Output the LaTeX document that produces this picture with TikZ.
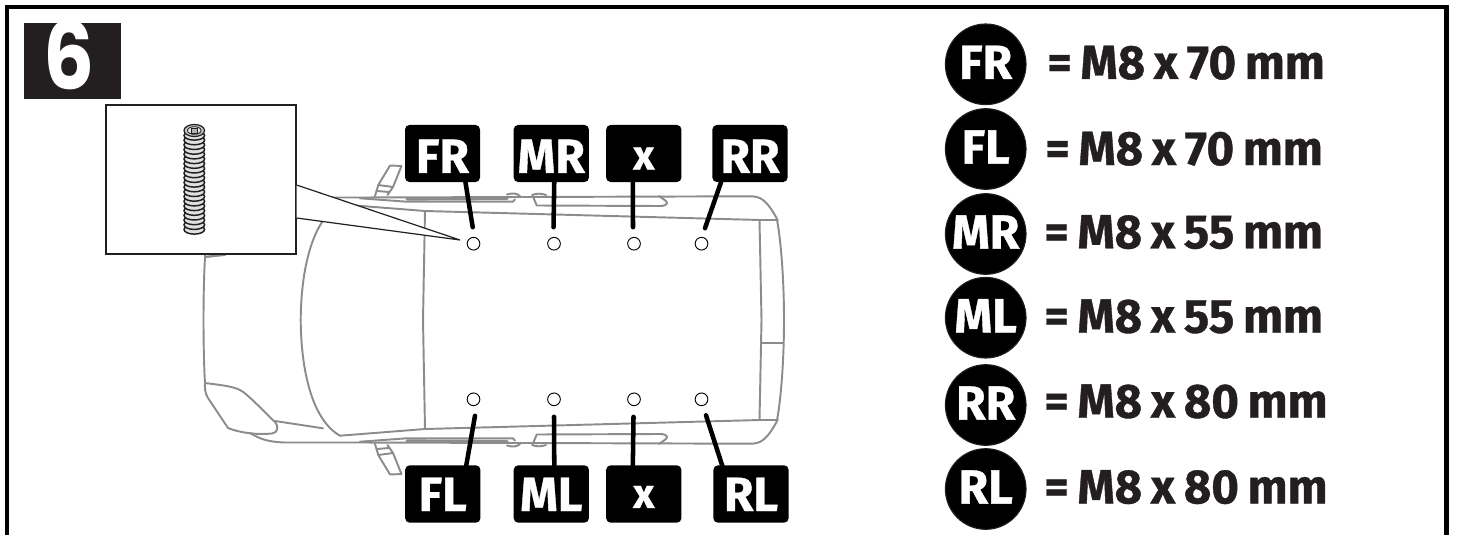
\documentclass[tikz,border=0pt]{standalone}
\usepackage{fontspec}
\setmainfont{Fira Sans}
\newfontfamily\dinfont[BoldFeatures={FakeBold=0.8},WordSpace=0.78]{Fira Sans}
\newfontfamily\stepfont{Poppins}
\usetikzlibrary{calc}
\definecolor{ink}{HTML}{231F20}
\definecolor{vangray}{HTML}{8C8C8C}
\tikzset{
  x=0.75pt,y=-0.75pt,
  framing/.style={draw=black,line width=3.5pt},
  van/.style={draw=vangray,line width=1.45pt,line join=round,line cap=round},
  rail/.style={draw=vangray,line width=2.4pt,line cap=round},
  tagbox/.style={fill=black,rounded corners=3.5pt,inner sep=0pt,minimum width=56.5pt,
     text=white,font=\dinfont\bfseries\fontsize{36}{36}\selectfont,align=center},
  tagtop/.style={tagbox,text height=36pt,text depth=6.9pt},
  tagbot/.style={tagbox,text height=34.3pt,text depth=8.8pt},
  tagxtop/.style={tagtop,font=\dinfont\bfseries\fontsize{31}{31}\selectfont,text height=33.5pt,text depth=9.4pt},
  tagxbot/.style={tagbot,font=\dinfont\bfseries\fontsize{31}{31}\selectfont,text height=32pt,text depth=11.1pt},
  hole/.style={circle,draw=black,line width=0.7pt,fill=white,minimum size=9.5pt,inner sep=0pt},
  leader/.style={draw=black,line width=3.4pt,line cap=round},
  disc/.style={circle,fill=black,draw=ink,line width=0.8pt,minimum size=60.5pt,inner sep=0pt,
     text=white,font=\dinfont\bfseries\fontsize{36}{36}\selectfont,text height=22pt,text depth=0pt},
  spec/.style={anchor=base west,inner sep=0pt,text=ink,font=\dinfont\bfseries\fontsize{36}{36}\selectfont},
  callout/.style={draw=ink,line width=0.9pt,fill=white},
}
\newcommand{\vanhalf}{%
  % side sill and roof edge
  \draw[van] (250,433) .. controls (260,439) and (268,442) .. (285,442.5) -- (360,442.5) -- (750,443.7)
     .. controls (760,443.7) and (766,441) .. (776.7,421.7);
  \draw[van] (340,435.7) -- (425,429) -- (760,420) -- (778,420);
  \draw[van] (275,421) -- (323,428.3);
  % windscreen lower half
  \draw[van] (300.7,320) .. controls (301,370) and (312,420) .. (340,435.7);
  % pillars
  \draw[van] (425,429) -- (423,320);
  \draw[van] (759.5,420) -- (761.5,320);
  % headlamp
  \draw[van] (205,383) .. controls (220,385) and (232,386) .. (240,390)
     .. controls (248,394) and (265,413) .. (275,422)
     .. controls (279,426) and (278,433) .. (272,433.5)
     .. controls (258,435) and (240,433) .. (228,428)
     -- (208,398) .. controls (205,393) and (204.5,388) .. (205,383);
  % mirror
  \draw[van] (375,444) -- (378.3,455) -- (390,474.5) -- (401.5,474) -- (393,453) -- (387.5,445);
  \draw[van] (378.3,455) -- (393,453);
  \draw[van] (377,449) -- (389,448);
  % roof rail
  \draw[van] (360,441.7) -- (406.7,438.3) -- (513,438.3) -- (515,440.7);
  \draw[rail] (407,441) -- (507,441.5);
  \draw[van] (507,445.5) .. controls (512,447) and (517,447) .. (520,444);
  \draw[van] (533,443.5) -- (536.7,434.5) -- (660,434) .. controls (667,434) and (668,437) .. (666,439) -- (659,444);
  \draw[van] (532,445) .. controls (537,447) and (542,446.5) .. (546,445);
}
\begin{document}
\begin{tikzpicture}
\useasboundingbox (0,0) rectangle (1458,535);
% frame
\draw[framing] (6.9,535) -- (6.9,7) -- (1446.6,7) -- (1446.6,535);
% step badge
\node[fill=ink,minimum width=72.75pt,minimum height=57pt,inner sep=0pt] (stepbadge) at (72.5,61) {};
\node[anchor=base,inner sep=0pt,text=white,font=\stepfont\bfseries\fontsize{70}{70}\selectfont] (stepnum) at (69,89.5) {\scalebox{0.86}[1]{6}};
% van
\vanhalf
\begin{scope}[shift={(0,640)},yscale=-1]
  \vanhalf
\end{scope}
\draw[van] (205,258) .. controls (203,290) and (203,350) .. (205,383);
\draw[van] (205,257) -- (225,255);
\draw[van] (776.7,421.7) .. controls (781,400) and (784,360) .. (784,320) .. controls (784,280) and (781,240) .. (776.7,218.3);
\draw[van] (761.7,343.3) -- (782.7,343.3);
% callout
\node[callout,minimum width=142.5pt,minimum height=111.75pt,inner sep=0pt] (inset) at (201,179.5) {};
\coordinate (calltip) at (460,240);
\fill[white] (inset.east |- 0,185) -- (calltip) -- (inset.east |- 0,218) -- cycle;
\draw[draw=ink,line width=0.9pt] (inset.east |- 0,185) -- (calltip) -- (inset.east |- 0,218);
% stud
\foreach \yy in {229.5,224.8,...,131} {
  \draw[ink,fill=black!12,line width=1.1pt] (194.3,\yy) ellipse (10.3 and 4.6);
}
\draw[ink,fill=black!25,line width=0.9pt] (194.3,130.5) ellipse (10.3 and 6);
\draw[ink,fill=black!10,line width=0.6pt] (194.3,130.5) ellipse (6.8 and 3.8);
\draw[ink,fill=black!30,line width=0.6pt] (191,128) rectangle (197.6,133);
% tags
\node[tagtop,minimum width=56.25pt] (tFR) at (442.5,153.5) {FR};
\node[tagtop] (tMR) at (551.3,153.5) {MR};
\node[tagxtop] (tXa) at (643.8,153.5) {x};
\node[tagtop] (tRR) at (750,153.5) {RR};
\node[tagbot] (tFL) at (442.8,494) {FL};
\node[tagbot] (tML) at (551.3,494) {ML};
\node[tagxbot] (tXb) at (643.8,494) {x};
\node[tagbot] (tRL) at (751,494) {RL};
% holes
\foreach \nm/\xx in {FR/473.5,MR/554,Xa/634,RR/701.5}
  \node[hole] (h\nm) at (\xx,243.7) {};
\foreach \nm/\xx in {FL/473.5,ML/554,Xb/634,RL/701.5}
  \node[hole] (h\nm) at (\xx,399.3) {};
% leaders
\draw[leader] ([shift={(22.5,-3)}]tFR.south) -- ([shift={(-0.8,-16.5)}]hFR.center);
\draw[leader] ([shift={(3,-3)}]tMR.south) -- ([shift={(-0.5,-16.5)}]hMR.center);
\draw[leader] ([shift={(-11,-3)}]tXa.south) -- ([shift={(-1,-16.5)}]hXa.center);
\draw[leader] ([shift={(-28,-3)}]tRR.south) -- ([shift={(3.5,-15.5)}]hRR.center);
\draw[leader] ([shift={(23,3)}]tFL.north) -- ([shift={(1.5,16.5)}]hFL.center);
\draw[leader] ([shift={(3,3)}]tML.north) -- ([shift={(0,17.5)}]hML.center);
\draw[leader] ([shift={(-11,3)}]tXb.north) -- ([shift={(-0.5,17.5)}]hXb.center);
\draw[leader] ([shift={(-28,3)}]tRL.north) -- ([shift={(4.5,16)}]hRL.center);
% legend
\foreach \nm/\yy/\bb/\tx/\val in {FR/64.3/79/1047/70,FL/149/165/1045/70,MR/234/248.3/1044/55,ML/317.7/332.7/1044/55,RR/405/417.7/1044/80,RL/489/503.3/1044/80}{
  \node[disc] (d\nm) at (985.7,\yy) {\nm};
  \node[spec] (s\nm) at (\tx,\bb) {\scalebox{0.985}[1]{= M8 x \val{} mm}};
}
\end{tikzpicture}
\end{document}
